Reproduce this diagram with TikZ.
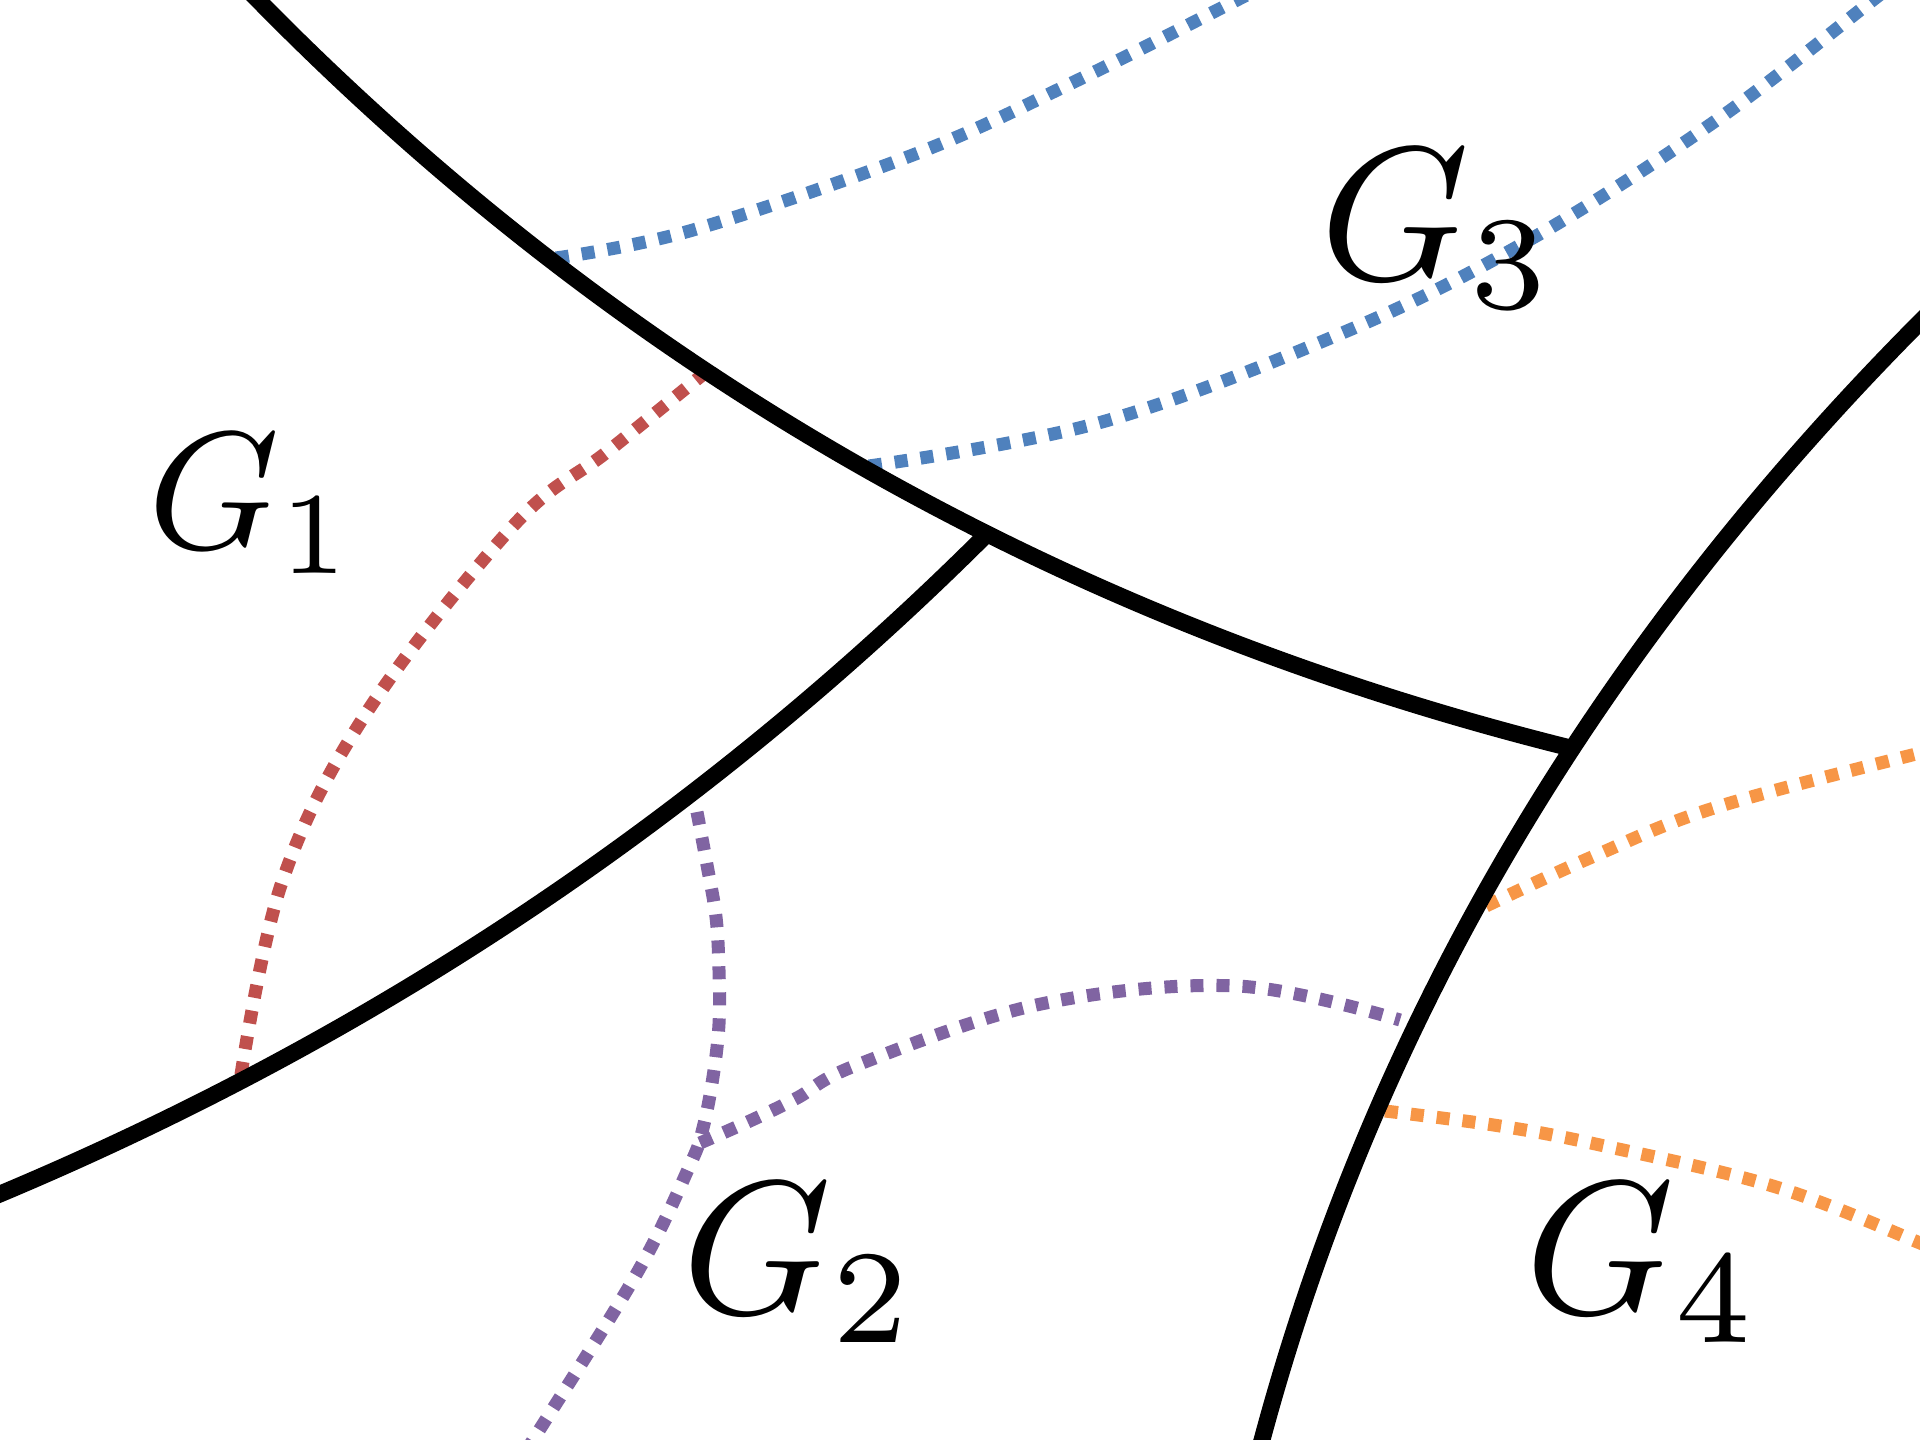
\documentclass[tikz,border=0pt]{standalone}
\usetikzlibrary{calc}
\definecolor{cblue}{RGB}{79,129,189}
\definecolor{cred}{RGB}{192,80,77}
\definecolor{cpurple}{RGB}{128,100,162}
\definecolor{corange}{RGB}{247,150,70}
\begin{document}
\begin{tikzpicture}[x=0.01cm,y=-0.01cm,
  bnd/.style={line width=4.8pt, black, line join=round},
  dotl/.style={line width=3.7pt, dash pattern=on 3.7pt off 3.7pt},
  lab/.style={inner sep=0pt, font=\normalsize, scale=5.4},
  labs/.style={inner sep=0pt, font=\normalsize, scale=4.75}]
\useasboundingbox (0,0) rectangle (1920,1440);
\clip (0,0) rectangle (1920,1440);
% junction coordinates (on the black boundaries)
\path (1262,1440) .. controls (1374,1023.3) and (1593.3,650.7) .. (1920,322) coordinate[pos=0.59] (j2);
\path (258,0) .. controls (623.3,372) and (1060.7,621.3) .. (j2) coordinate[pos=0.595] (j1);
% dotted curves
\draw[dotl, cblue] plot[smooth, tension=0.6] coordinates {(556,258) (693,230) (918,153) (1078,80) (1237,0) (1290,-28)};
\draw[dotl, cblue] plot[smooth, tension=0.6] coordinates {(869,466) (1102,422) (1347,331) (1531,239) (1714,122) (1873,0) (1910,-30)};
\draw[dotl, cred] plot[smooth, tension=0.6] coordinates {(706,372) (607,452) (514,525) (367,712) (282,882) (240,1081)};
\draw[dotl, cpurple] plot[smooth, tension=0.6] coordinates {(697,812) (707,865) (716,917) (719,970) (719,1024) (713,1077) (703,1128) (690,1165) (637,1273) (533,1440) (515,1468)};
\draw[dotl, cpurple] plot[smooth, tension=0.6] coordinates {(700,1143) (752,1120) (797,1098) (857,1065) (1041,1004) (1237,986) (1400,1020)};
\draw[dotl, corange] plot[smooth, tension=0.6] coordinates {(1486,906) (1592,857) (1714,808) (1920,753) (1960,745)};
\draw[dotl, corange] plot[smooth, tension=0.6] coordinates {(1385,1111) (1500,1126) (1600,1145) (1776,1187) (1920,1243) (1960,1262)};
% black boundaries
\draw[bnd] (234,-24) -- (258,0) .. controls (623.3,372) and (1060.7,621.3) .. (j2);
\draw[bnd] (-40,1211) -- (0,1194) .. controls (374.7,1036.7) and ($(j1)!0.6667!(562,958)$) .. (j1);
\draw[bnd] (1253,1472) -- (1262,1440) .. controls (1374,1023.3) and (1593.3,650.7) .. (1920,322) -- (1943,299);
% labels
\node[labs] (g1) at (252,504) {$G_1$};
\node[lab] (g2) at (800,1263) {$G_2$};
\node[lab] (g3) at (1438,229) {$G_3$};
\node[lab] (g4) at (1643,1263) {$G_4$};
\end{tikzpicture}
\end{document}
